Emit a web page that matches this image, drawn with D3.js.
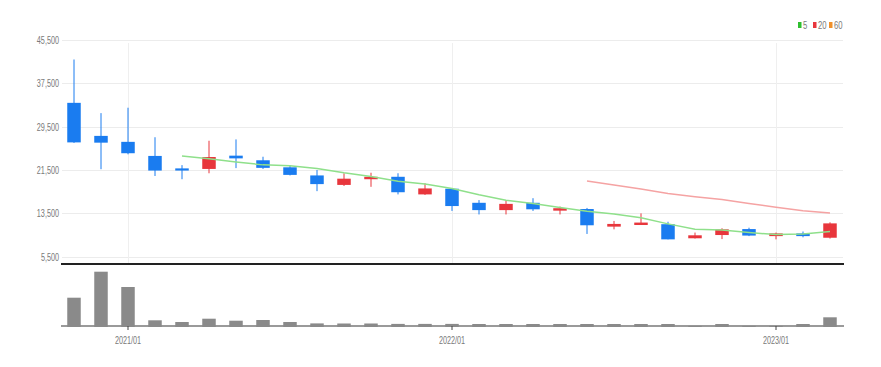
<!DOCTYPE html>
<html>
<head>
<meta charset="utf-8">
<script src="https://cdn.jsdelivr.net/npm/d3@7"></script>
<style>
  html, body { margin: 0; padding: 0; background: #fff; }
  svg { display: block; }
  text { font-family: "Liberation Sans", Arial, sans-serif; fill: #7a7a7a; }
</style>
</head>
<body>
<svg id="chart" width="881" height="367"></svg>
<script>
const months = ["2020/11","2020/12","2021/01","2021/02","2021/03","2021/04","2021/05","2021/06","2021/07","2021/08",
  "2021/09","2021/10","2021/11","2021/12","2022/01","2022/02","2022/03","2022/04","2022/05","2022/06",
  "2022/07","2022/08","2022/09","2022/10","2022/11","2022/12","2023/01","2023/02","2023/03"];
const openVals  = [33900,27800,26700,24100,21800,21700,24150,23300,22000,20500,18750,19800,20250,17000,18050,15450,14100,15450,14000,14300,11050,11350,11500,8900,9500,10600,9300,9800,9000];
const highVals  = [41900,32000,33000,27550,22400,26900,27150,23950,22400,21500,20900,21000,20900,19050,18100,15950,15950,16300,14750,14500,12100,13500,11950,9950,10750,10850,9950,10150,11850];
const lowVals   = [26500,21650,24400,20400,19800,20900,21850,21700,20500,17600,18550,18400,17000,16900,13950,13300,13300,13950,13300,9700,10550,11350,8700,8850,8750,9300,8700,9080,8850];
const closeVals = [26600,26550,24600,21400,21400,23900,23650,21900,20600,18900,19900,20250,17400,18100,14850,14100,15250,14250,14450,11300,11550,11800,8700,9450,10550,9400,9800,9300,11650];
const volumeVals = [2830,5430,3900,570,400,730,530,600,400,260,250,250,210,210,210,200,200,200,200,200,200,200,200,20,200,20,20,200,870];
const priceTicks = [5500,13500,21500,29500,37500,45500];
const xTickLabels = ["2021/01","2022/01","2023/01"];
const maPeriods = [5,20,60];
const maColors = ["#8fe08b","#f5a3a3","#f5a04a"];
const legendColors = ["#2fbf2f","#e8363c","#f0902a"];

const upColor = "#e8363c", downColor = "#1a7cf0";

const svg = d3.select("#chart");
const left = 61, right = 844;
const priceBottom = 264;
const volBase = 326;

const x = d3.scaleBand().domain(months).range([60.5, 843.5]).paddingInner(0.5).paddingOuter(0.25);
const y = d3.scaleLinear().domain([5500, 45500]).range([256.7, 40]);
const yv = d3.scaleLinear().domain([0, d3.max(volumeVals)]).range([volBase, 271.7]);
const cx = m => x(m) + x.bandwidth() / 2;

const fmt = d3.format(",");

// horizontal grid
svg.append("g").selectAll("line").data(priceTicks).join("line")
  .attr("x1", left + 1).attr("x2", right - 1)
  .attr("y1", d => Math.round(y(d)) + 0.5).attr("y2", d => Math.round(y(d)) + 0.5)
  .attr("stroke", "#ececec").attr("stroke-width", 1);

// vertical grid
svg.append("g").selectAll("line").data(xTickLabels).join("line")
  .attr("x1", d => Math.round(cx(d)) + 0.5).attr("x2", d => Math.round(cx(d)) + 0.5)
  .attr("y1", 43).attr("y2", priceBottom)
  .attr("stroke", "#efefef").attr("stroke-width", 1);

// y axis labels
const yAxis = d3.axisLeft(y).tickValues(priceTicks).tickFormat(fmt).tickSize(0).tickPadding(0);
const yg = svg.append("g").attr("transform", "translate(59,0)").call(yAxis);
yg.select(".domain").remove();
yg.selectAll("text")
  .attr("font-size", 11).attr("fill", "#7a7a7a").attr("x", 0)
  .attr("transform", "scale(0.66,1)");

// candles
const candleIdx = d3.range(months.length);
const cg = svg.append("g");
cg.selectAll("line.wick").data(candleIdx).join("line").attr("class","wick")
  .attr("x1", i => cx(months[i])).attr("x2", i => cx(months[i]))
  .attr("y1", i => y(highVals[i])).attr("y2", i => y(lowVals[i]))
  .attr("stroke", i => closeVals[i] >= openVals[i] ? upColor : downColor).attr("stroke-width", 1);
cg.selectAll("rect.body").data(candleIdx).join("rect").attr("class","body")
  .attr("x", i => x(months[i]))
  .attr("width", x.bandwidth())
  .attr("y", i => y(Math.max(openVals[i], closeVals[i])))
  .attr("height", i => Math.max(1.5, Math.abs(y(openVals[i]) - y(closeVals[i]))))
  .attr("fill", i => closeVals[i] >= openVals[i] ? upColor : downColor);

// moving averages (computed from closes)
maPeriods.forEach((p, k) => {
  const pts = [];
  for (let i = p - 1; i < closeVals.length; i++) {
    pts.push([cx(months[i]), y(d3.mean(closeVals.slice(i - p + 1, i + 1)))]);
  }
  if (pts.length > 1) {
    svg.append("path").attr("d", d3.line()(pts))
      .attr("fill", "none").attr("stroke", maColors[k]).attr("stroke-width", 1.5);
  }
});

// separator line
svg.append("line").attr("x1", left).attr("x2", right).attr("y1", priceBottom).attr("y2", priceBottom)
  .attr("stroke", "#222").attr("stroke-width", 2);

// volume baseline
svg.append("line").attr("x1", left).attr("x2", right).attr("y1", volBase).attr("y2", volBase)
  .attr("stroke", "#9a9a9a").attr("stroke-width", 2);

// volume bars
svg.append("g").selectAll("rect").data(candleIdx).join("rect")
  .attr("x", i => x(months[i])).attr("width", x.bandwidth())
  .attr("y", i => yv(volumeVals[i])).attr("height", i => volBase + 1 - yv(volumeVals[i]))
  .attr("fill", "#8a8a8a");

// volume x axis
const xAxis = d3.axisBottom(x).tickValues(xTickLabels).tickSize(4).tickPadding(6);
const xg = svg.append("g").attr("transform", `translate(0,${volBase})`).call(xAxis);
xg.select(".domain").remove();
xg.selectAll(".tick line").attr("stroke", "#444");
xg.selectAll("text").attr("font-size", 11).attr("fill", "#7a7a7a")
  .attr("transform", "scale(0.66,1)");

// legend
const lg = svg.append("g");
const legX = [798, 813, 829];
maPeriods.forEach((p, k) => {
  lg.append("rect").attr("x", legX[k]).attr("y", 22).attr("width", 3.5).attr("height", 6).attr("fill", legendColors[k]);
  lg.append("text").attr("x", (legX[k] + 5) / 0.7).attr("y", 29).attr("font-size", 11)
    .attr("transform", "scale(0.7,1)").attr("fill", "#8a8a8a").text(p);
});
</script>
</body>
</html>
